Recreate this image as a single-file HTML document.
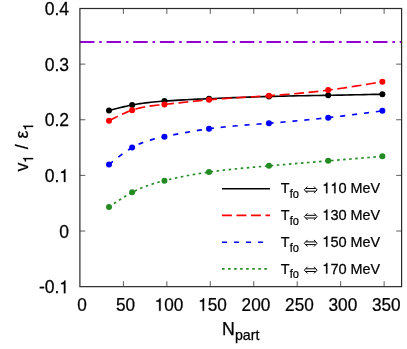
<!DOCTYPE html>
<html><head><meta charset="utf-8"><title>plot</title>
<style>html,body{margin:0;padding:0;background:#fff;}svg{display:block;}text{font-family:"Liberation Sans",sans-serif;fill:#000;stroke:#000;stroke-width:0.25px;}</style></head>
<body><div style="width:407px;height:349px;will-change:transform;background:#fff;"><svg width="407" height="349" viewBox="0 0 407 349">
<rect x="0" y="0" width="407" height="349" fill="#ffffff"/>
<path d="M123.36,286.65 V281.25 M123.36,8.5 V13.90 M166.82,286.65 V281.25 M166.82,8.5 V13.90 M210.28,286.65 V281.25 M210.28,8.5 V13.90 M253.74,286.65 V281.25 M253.74,8.5 V13.90 M297.20,286.65 V281.25 M297.20,8.5 V13.90 M340.66,286.65 V281.25 M340.66,8.5 V13.90 M384.12,286.65 V281.25 M384.12,8.5 V13.90 M79.9,64.13 H85.30 M401.6,64.13 H396.20 M79.9,119.76 H85.30 M401.6,119.76 H396.20 M79.9,175.39 H85.30 M401.6,175.39 H396.20 M79.9,231.02 H85.30 M401.6,231.02 H396.20" stroke="#333333" stroke-width="0.8" fill="none"/>
<path d="M79.9,42.05 H401.6" stroke="#9400d3" stroke-width="2.0" stroke-dasharray="14.5 4.85 2.5 4.8" fill="none"/>
<path d="M109.00,110.55 L110.93,110.04 L112.86,109.54 L114.79,109.04 L116.72,108.54 L118.65,108.05 L120.58,107.57 L122.50,107.10 L124.43,106.65 L126.36,106.21 L128.29,105.79 L130.22,105.38 L132.15,105.00 L134.84,104.50 L137.53,104.04 L140.22,103.63 L142.92,103.24 L145.61,102.89 L148.30,102.57 L150.99,102.27 L153.68,102.00 L156.38,101.75 L159.07,101.52 L161.76,101.30 L164.45,101.10 L168.16,100.83 L171.88,100.59 L175.59,100.35 L179.30,100.13 L183.01,99.93 L186.72,99.73 L190.44,99.54 L194.15,99.36 L197.86,99.19 L201.57,99.02 L205.29,98.86 L209.00,98.70 L214.00,98.48 L218.99,98.27 L223.99,98.06 L228.98,97.85 L233.98,97.65 L238.97,97.46 L243.97,97.27 L248.97,97.09 L253.96,96.91 L258.96,96.75 L263.95,96.59 L268.95,96.45 L273.89,96.32 L278.82,96.20 L283.76,96.09 L288.70,95.99 L293.64,95.89 L298.57,95.80 L303.51,95.71 L308.45,95.63 L313.39,95.55 L318.32,95.47 L323.26,95.38 L328.20,95.30 L332.71,95.22 L337.23,95.14 L341.74,95.06 L346.25,94.97 L350.76,94.89 L355.27,94.80 L359.79,94.71 L364.30,94.62 L368.81,94.53 L373.33,94.43 L377.84,94.34 L382.35,94.25" stroke="#000000" stroke-width="1.65" fill="none"/>
<circle cx="109.0" cy="110.55" r="3.0" fill="#000000"/>
<circle cx="132.15" cy="105.0" r="3.0" fill="#000000"/>
<circle cx="164.45" cy="101.1" r="3.0" fill="#000000"/>
<circle cx="209.0" cy="98.7" r="3.0" fill="#000000"/>
<circle cx="268.95" cy="96.45" r="3.0" fill="#000000"/>
<circle cx="328.2" cy="95.3" r="3.0" fill="#000000"/>
<circle cx="382.35" cy="94.25" r="3.0" fill="#000000"/>
<path d="M109.00,120.85 L110.93,119.84 L112.86,118.84 L114.79,117.85 L116.72,116.87 L118.65,115.91 L120.58,114.98 L122.50,114.07 L124.43,113.20 L126.36,112.37 L128.29,111.58 L130.22,110.84 L132.15,110.15 L134.84,109.28 L137.53,108.52 L140.22,107.85 L142.92,107.27 L145.61,106.76 L148.30,106.31 L150.99,105.91 L153.68,105.56 L156.38,105.25 L159.07,104.95 L161.76,104.67 L164.45,104.40 L168.16,104.02 L171.88,103.62 L175.59,103.22 L179.30,102.82 L183.01,102.42 L186.72,102.02 L190.44,101.63 L194.15,101.24 L197.86,100.86 L201.57,100.49 L205.29,100.14 L209.00,99.80 L214.00,99.38 L218.99,98.98 L223.99,98.61 L228.98,98.27 L233.98,97.94 L238.97,97.62 L243.97,97.31 L248.97,97.01 L253.96,96.71 L258.96,96.40 L263.95,96.08 L268.95,95.75 L273.89,95.41 L278.82,95.04 L283.76,94.66 L288.70,94.26 L293.64,93.83 L298.57,93.38 L303.51,92.91 L308.45,92.40 L313.39,91.87 L318.32,91.31 L323.26,90.72 L328.20,90.10 L332.71,89.50 L337.23,88.88 L341.74,88.23 L346.25,87.56 L350.76,86.88 L355.27,86.18 L359.79,85.46 L364.30,84.73 L368.81,83.99 L373.33,83.25 L377.84,82.50 L382.35,81.75" stroke="#ff0000" stroke-width="1.65" fill="none" stroke-dasharray="9.9 4.6"/>
<circle cx="109.0" cy="120.85" r="3.0" fill="#ff0000"/>
<circle cx="132.15" cy="110.15" r="3.0" fill="#ff0000"/>
<circle cx="164.45" cy="104.4" r="3.0" fill="#ff0000"/>
<circle cx="209.0" cy="99.8" r="3.0" fill="#ff0000"/>
<circle cx="268.95" cy="95.75" r="3.0" fill="#ff0000"/>
<circle cx="328.2" cy="90.1" r="3.0" fill="#ff0000"/>
<circle cx="382.35" cy="81.75" r="3.0" fill="#ff0000"/>
<path d="M109.00,164.60 L110.93,163.03 L112.86,161.46 L114.79,159.91 L116.72,158.37 L118.65,156.87 L120.58,155.39 L122.50,153.96 L124.43,152.57 L126.36,151.23 L128.29,149.95 L130.22,148.74 L132.15,147.60 L134.84,146.14 L137.53,144.82 L140.22,143.62 L142.92,142.55 L145.61,141.58 L148.30,140.70 L150.99,139.90 L153.68,139.17 L156.38,138.50 L159.07,137.87 L161.76,137.28 L164.45,136.70 L168.16,135.92 L171.88,135.16 L175.59,134.42 L179.30,133.70 L183.01,133.00 L186.72,132.32 L190.44,131.67 L194.15,131.04 L197.86,130.43 L201.57,129.86 L205.29,129.31 L209.00,128.80 L214.00,128.16 L218.99,127.57 L223.99,127.02 L228.98,126.52 L233.98,126.05 L238.97,125.61 L243.97,125.19 L248.97,124.79 L253.96,124.40 L258.96,124.02 L263.95,123.64 L268.95,123.25 L273.89,122.86 L278.82,122.45 L283.76,122.03 L288.70,121.60 L293.64,121.16 L298.57,120.70 L303.51,120.23 L308.45,119.75 L313.39,119.25 L318.32,118.73 L323.26,118.20 L328.20,117.65 L332.71,117.13 L337.23,116.60 L341.74,116.06 L346.25,115.51 L350.76,114.95 L355.27,114.38 L359.79,113.80 L364.30,113.22 L368.81,112.63 L373.33,112.04 L377.84,111.45 L382.35,110.85" stroke="#0000ff" stroke-width="1.65" fill="none" stroke-dasharray="5.1 6.9"/>
<circle cx="109.0" cy="164.6" r="3.0" fill="#0000ff"/>
<circle cx="132.15" cy="147.6" r="3.0" fill="#0000ff"/>
<circle cx="164.45" cy="136.7" r="3.0" fill="#0000ff"/>
<circle cx="209.0" cy="128.8" r="3.0" fill="#0000ff"/>
<circle cx="268.95" cy="123.25" r="3.0" fill="#0000ff"/>
<circle cx="328.2" cy="117.65" r="3.0" fill="#0000ff"/>
<circle cx="382.35" cy="110.85" r="3.0" fill="#0000ff"/>
<path d="M109.00,207.00 L110.93,205.68 L112.86,204.36 L114.79,203.05 L116.72,201.75 L118.65,200.47 L120.58,199.22 L122.50,197.98 L124.43,196.78 L126.36,195.61 L128.29,194.48 L130.22,193.39 L132.15,192.35 L134.84,190.98 L137.53,189.70 L140.22,188.51 L142.92,187.40 L145.61,186.36 L148.30,185.40 L150.99,184.49 L153.68,183.64 L156.38,182.83 L159.07,182.07 L161.76,181.35 L164.45,180.65 L168.16,179.73 L171.88,178.85 L175.59,178.02 L179.30,177.22 L183.01,176.47 L186.72,175.75 L190.44,175.06 L194.15,174.41 L197.86,173.79 L201.57,173.20 L205.29,172.64 L209.00,172.10 L214.00,171.42 L218.99,170.78 L223.99,170.18 L228.98,169.61 L233.98,169.07 L238.97,168.56 L243.97,168.07 L248.97,167.60 L253.96,167.15 L258.96,166.71 L263.95,166.28 L268.95,165.85 L273.89,165.43 L278.82,165.01 L283.76,164.59 L288.70,164.17 L293.64,163.75 L298.57,163.34 L303.51,162.92 L308.45,162.50 L313.39,162.09 L318.32,161.68 L323.26,161.26 L328.20,160.85 L332.71,160.47 L337.23,160.10 L341.74,159.72 L346.25,159.35 L350.76,158.97 L355.27,158.60 L359.79,158.22 L364.30,157.85 L368.81,157.47 L373.33,157.10 L377.84,156.72 L382.35,156.35" stroke="#228b22" stroke-width="1.65" fill="none" stroke-dasharray="2.5 3.55"/>
<circle cx="109.0" cy="207.0" r="3.0" fill="#228b22"/>
<circle cx="132.15" cy="192.35" r="3.0" fill="#228b22"/>
<circle cx="164.45" cy="180.65" r="3.0" fill="#228b22"/>
<circle cx="209.0" cy="172.1" r="3.0" fill="#228b22"/>
<circle cx="268.95" cy="165.85" r="3.0" fill="#228b22"/>
<circle cx="328.2" cy="160.85" r="3.0" fill="#228b22"/>
<circle cx="382.35" cy="156.35" r="3.0" fill="#228b22"/>
<rect x="79.9" y="8.5" width="321.70" height="278.15" fill="none" stroke="#2a2a2a" stroke-width="1.2"/>
<path d="M222,188.8 H270" stroke="#000000" stroke-width="1.6" fill="none"/>
<g transform="translate(280.80,193.30) scale(0.955,1)"><text x="0" y="0" font-size="15.1">T<tspan font-size="12.8" dx="0.1" dy="4.8" textLength="9.7" lengthAdjust="spacingAndGlyphs">fo</tspan></text></g>
<path d="M307.5,186.55 L304.3,189.85 L307.5,193.15 M314.0,186.55 L317.1,189.85 L314.0,193.15 M305.8,188.50 H315.7 M305.8,191.20 H315.7" stroke="#000" stroke-width="1.0" fill="none" stroke-linejoin="miter"/>
<g transform="translate(322.30,193.30) scale(0.968,1)"><path d="M259 0 L347 0 L347 709 L289 709 C268 630 232 592 101 574 L101 505 L259 505 Z" transform="translate(0.00,0) scale(0.01510,-0.01510)" fill="#000" stroke="#000" stroke-width="0.25" vector-effect="non-scaling-stroke"/><path d="M259 0 L347 0 L347 709 L289 709 C268 630 232 592 101 574 L101 505 L259 505 Z" transform="translate(8.40,0) scale(0.01510,-0.01510)" fill="#000" stroke="#000" stroke-width="0.25" vector-effect="non-scaling-stroke"/><text x="16.79" y="0" font-size="15.1">0</text></g>
<g transform="translate(350.60,193.30) scale(0.955,1)"><text x="0" y="0" font-size="15.1">MeV</text></g>
<path d="M222,215.4 H270" stroke="#ff0000" stroke-width="1.65" fill="none" stroke-dasharray="9.9 4.6"/>
<g transform="translate(280.80,220.10) scale(0.955,1)"><text x="0" y="0" font-size="15.1">T<tspan font-size="12.8" dx="0.1" dy="4.8" textLength="9.7" lengthAdjust="spacingAndGlyphs">fo</tspan></text></g>
<path d="M307.5,213.35 L304.3,216.65 L307.5,219.95 M314.0,213.35 L317.1,216.65 L314.0,219.95 M305.8,215.30 H315.7 M305.8,218.00 H315.7" stroke="#000" stroke-width="1.0" fill="none" stroke-linejoin="miter"/>
<g transform="translate(322.30,220.10) scale(0.968,1)"><path d="M259 0 L347 0 L347 709 L289 709 C268 630 232 592 101 574 L101 505 L259 505 Z" transform="translate(0.00,0) scale(0.01510,-0.01510)" fill="#000" stroke="#000" stroke-width="0.25" vector-effect="non-scaling-stroke"/><text x="8.40" y="0" font-size="15.1">30</text></g>
<g transform="translate(350.60,220.10) scale(0.955,1)"><text x="0" y="0" font-size="15.1">MeV</text></g>
<path d="M222,242.25 H270" stroke="#0000ff" stroke-width="1.65" fill="none" stroke-dasharray="5.1 6.9"/>
<g transform="translate(280.80,246.70) scale(0.955,1)"><text x="0" y="0" font-size="15.1">T<tspan font-size="12.8" dx="0.1" dy="4.8" textLength="9.7" lengthAdjust="spacingAndGlyphs">fo</tspan></text></g>
<path d="M307.5,239.95 L304.3,243.25 L307.5,246.55 M314.0,239.95 L317.1,243.25 L314.0,246.55 M305.8,241.90 H315.7 M305.8,244.60 H315.7" stroke="#000" stroke-width="1.0" fill="none" stroke-linejoin="miter"/>
<g transform="translate(322.30,246.70) scale(0.968,1)"><path d="M259 0 L347 0 L347 709 L289 709 C268 630 232 592 101 574 L101 505 L259 505 Z" transform="translate(0.00,0) scale(0.01510,-0.01510)" fill="#000" stroke="#000" stroke-width="0.25" vector-effect="non-scaling-stroke"/><text x="8.40" y="0" font-size="15.1">50</text></g>
<g transform="translate(350.60,246.70) scale(0.955,1)"><text x="0" y="0" font-size="15.1">MeV</text></g>
<path d="M222,268.9 H270" stroke="#228b22" stroke-width="1.65" fill="none" stroke-dasharray="2.5 3.55"/>
<g transform="translate(280.80,273.60) scale(0.955,1)"><text x="0" y="0" font-size="15.1">T<tspan font-size="12.8" dx="0.1" dy="4.8" textLength="9.7" lengthAdjust="spacingAndGlyphs">fo</tspan></text></g>
<path d="M307.5,266.85 L304.3,270.15 L307.5,273.45 M314.0,266.85 L317.1,270.15 L314.0,273.45 M305.8,268.80 H315.7 M305.8,271.50 H315.7" stroke="#000" stroke-width="1.0" fill="none" stroke-linejoin="miter"/>
<g transform="translate(322.30,273.60) scale(0.968,1)"><path d="M259 0 L347 0 L347 709 L289 709 C268 630 232 592 101 574 L101 505 L259 505 Z" transform="translate(0.00,0) scale(0.01510,-0.01510)" fill="#000" stroke="#000" stroke-width="0.25" vector-effect="non-scaling-stroke"/><text x="8.40" y="0" font-size="15.1">70</text></g>
<g transform="translate(350.60,273.60) scale(0.955,1)"><text x="0" y="0" font-size="15.1">MeV</text></g>
<g transform="translate(69.10,15.05) scale(0.985,1)"><text x="-24.74" y="0" font-size="17.8">0.4</text></g>
<g transform="translate(69.10,70.68) scale(0.985,1)"><text x="-24.74" y="0" font-size="17.8">0.3</text></g>
<g transform="translate(69.10,126.31) scale(0.985,1)"><text x="-24.74" y="0" font-size="17.8">0.2</text></g>
<g transform="translate(69.10,181.94) scale(0.985,1)"><text x="-24.74" y="0" font-size="17.8">0.</text><path d="M259 0 L347 0 L347 709 L289 709 C268 630 232 592 101 574 L101 505 L259 505 Z" transform="translate(-9.90,0) scale(0.01780,-0.01780)" fill="#000" stroke="#000" stroke-width="0.25" vector-effect="non-scaling-stroke"/></g>
<g transform="translate(69.10,237.57) scale(0.985,1)"><text x="-9.90" y="0" font-size="17.8">0</text></g>
<g transform="translate(69.10,293.20) scale(0.985,1)"><text x="-30.67" y="0" font-size="17.8">-0.</text><path d="M259 0 L347 0 L347 709 L289 709 C268 630 232 592 101 574 L101 505 L259 505 Z" transform="translate(-9.90,0) scale(0.01780,-0.01780)" fill="#000" stroke="#000" stroke-width="0.25" vector-effect="non-scaling-stroke"/></g>
<g transform="translate(82.10,310.80) scale(0.965,1)"><text x="-4.95" y="0" font-size="17.8">0</text></g>
<g transform="translate(125.56,310.80) scale(0.965,1)"><text x="-9.90" y="0" font-size="17.8">50</text></g>
<g transform="translate(169.02,310.80) scale(0.965,1)"><path d="M259 0 L347 0 L347 709 L289 709 C268 630 232 592 101 574 L101 505 L259 505 Z" transform="translate(-14.85,0) scale(0.01780,-0.01780)" fill="#000" stroke="#000" stroke-width="0.25" vector-effect="non-scaling-stroke"/><text x="-4.95" y="0" font-size="17.8">00</text></g>
<g transform="translate(212.48,310.80) scale(0.965,1)"><path d="M259 0 L347 0 L347 709 L289 709 C268 630 232 592 101 574 L101 505 L259 505 Z" transform="translate(-14.85,0) scale(0.01780,-0.01780)" fill="#000" stroke="#000" stroke-width="0.25" vector-effect="non-scaling-stroke"/><text x="-4.95" y="0" font-size="17.8">50</text></g>
<g transform="translate(255.94,310.80) scale(0.965,1)"><text x="-14.85" y="0" font-size="17.8">200</text></g>
<g transform="translate(299.40,310.80) scale(0.965,1)"><text x="-14.85" y="0" font-size="17.8">250</text></g>
<g transform="translate(342.86,310.80) scale(0.965,1)"><text x="-14.85" y="0" font-size="17.8">300</text></g>
<g transform="translate(386.32,310.80) scale(0.965,1)"><text x="-14.85" y="0" font-size="17.8">350</text></g>
<text x="222.1" y="335.2" font-size="17.8">N<tspan font-size="14.2" dy="5.2">part</tspan></text>
<g transform="translate(27.5,171.6) rotate(-90)"><text x="0" y="0" font-size="17.8">v</text><path d="M259 0 L347 0 L347 709 L289 709 C268 630 232 592 101 574 L101 505 L259 505 Z" transform="translate(8.70,5.60) scale(0.01420,-0.01420)" fill="#000" stroke="#000" stroke-width="0.25" vector-effect="non-scaling-stroke"/><text x="22.3" y="0" font-size="17.8">/</text><text x="33.1" y="0" font-size="17.8">ε</text><path d="M259 0 L347 0 L347 709 L289 709 C268 630 232 592 101 574 L101 505 L259 505 Z" transform="translate(41.00,5.60) scale(0.01420,-0.01420)" fill="#000" stroke="#000" stroke-width="0.25" vector-effect="non-scaling-stroke"/></g>
</svg></div></body></html>
